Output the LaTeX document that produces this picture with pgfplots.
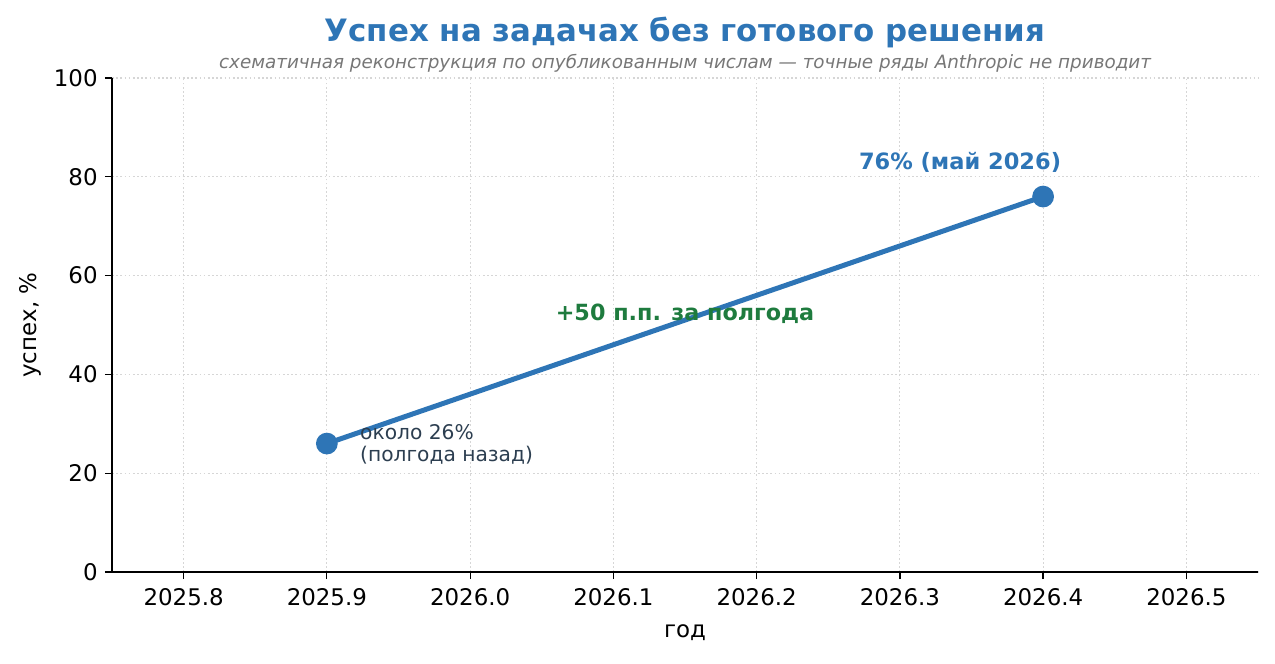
\documentclass[border=0pt]{standalone}
\usepackage{pgfplots}
\pgfplotsset{compat=1.18}
\usepackage{fontspec}
\setmainfont{DejaVu Sans}
\definecolor{lineblue}{HTML}{2E75B6}
\definecolor{anngreen}{HTML}{1E7B3E}
\definecolor{annslate}{HTML}{2C3E50}
\definecolor{subgray}{HTML}{777777}
\definecolor{gridgray}{HTML}{D6D6D6}
\begin{document}
\begin{tikzpicture}
\useasboundingbox (0,0) rectangle (612pt,318.24pt);
\begin{axis}[
  at={(53.76pt,43.68pt)}, anchor=south west,
  scale only axis, width=550.08pt, height=237.12pt,
  xmin=2025.75, xmax=2026.55, ymin=0, ymax=100,
  xtick={2025.8,2025.9,2026.0,2026.1,2026.2,2026.3,2026.4,2026.5},
  xticklabels={2025.8,2025.9,2026.0,2026.1,2026.2,2026.3,2026.4,2026.5},
  ytick={0,20,40,60,80,100},
  /pgf/number format/assume math mode=true,
  axis x line*=bottom, axis y line*=left,
  axis line style={line width=0.6pt, -},
  tick align=outside, major tick length=3.4pt,
  tick style={line width=0.6pt, black},
  grid=major,
  major grid style={gridgray, dash pattern=on 0.8pt off 1.2pt, line width=0.5pt},
  ticklabel style={font=\fontsize{11}{13}\selectfont},
  xticklabel style={yshift=-1pt},
  xlabel={год}, ylabel={успех, \%},
  label style={font=\fontsize{11}{13}\selectfont},
  xlabel style={yshift=-2pt},
  ylabel style={yshift=-1pt},
  clip=false,
]
\addplot[lineblue, line width=2.4pt, mark=*, mark size=4pt, mark options={fill=lineblue, draw=lineblue}]
  coordinates {(2025.9,26) (2026.4,76)};
\node[font=\fontsize{10.8}{12}\selectfont\bfseries, text=lineblue] at (axis cs:2026.342,83) {76\% (май 2026)};
\node[font=\fontsize{10.7}{12}\selectfont\bfseries, text=anngreen] at (axis cs:2026.15,52.2) {+50 п.п. за полгода};
\node[font=\fontsize{9.7}{10.8}\selectfont, text=annslate, anchor=west, align=left, inner sep=0pt] at (axis cs:2025.923,25.8) {около 26\%\\(полгода назад)};
\node[font=\fontsize{14.8}{16}\selectfont\bfseries, text=lineblue] at (axis cs:2026.15,109.2) {Успех на задачах без готового решения};
\node[font=\fontsize{8.8}{10}\selectfont\itshape, text=subgray] at (axis cs:2026.15,103.0) {схематичная реконструкция по опубликованным числам — точные ряды Anthropic не приводит};
\end{axis}
\end{tikzpicture}
\end{document}
